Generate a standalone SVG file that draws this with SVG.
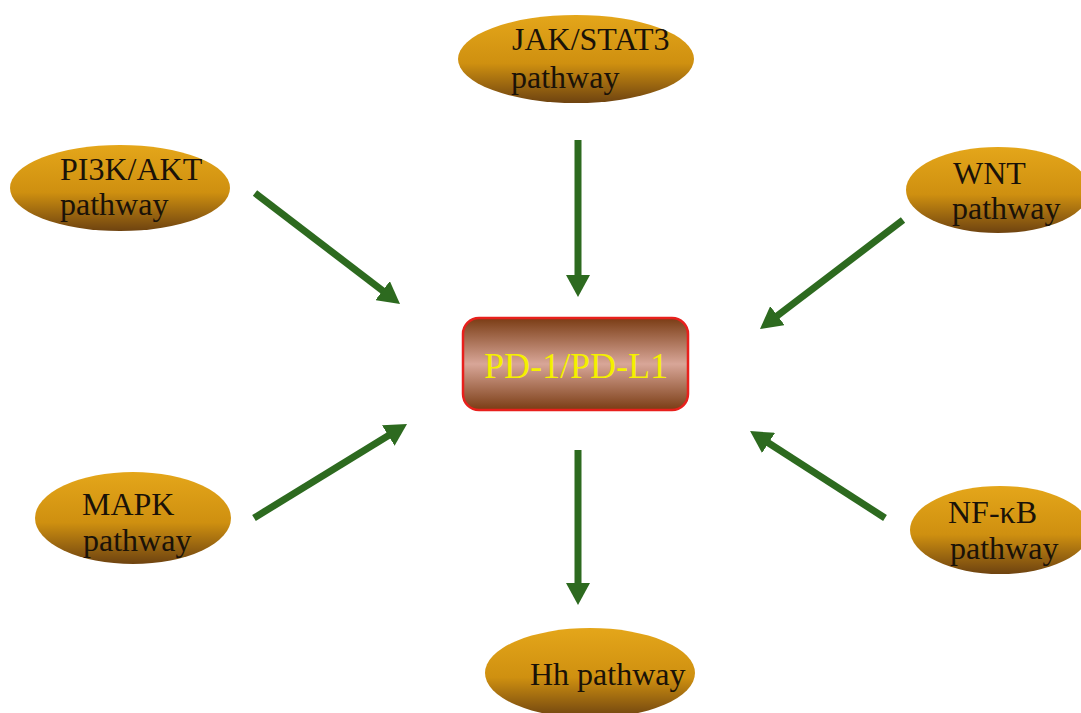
<svg xmlns="http://www.w3.org/2000/svg" width="1081" height="713" viewBox="0 0 1081 713">
<style>
.lbl{font-family:"Liberation Serif","Times New Roman",serif;font-size:32px;fill:#1a1208}
.ell{fill:url(#gold)}
.conn line{stroke:#2d6a1f;stroke-width:7;marker-end:url(#ah)}
</style>
<defs>
<linearGradient id="gold" x1="0" y1="0" x2="0" y2="1">
<stop offset="0" stop-color="#e4a61a"/>
<stop offset="0.55" stop-color="#cf9010"/>
<stop offset="1" stop-color="#6e4310"/>
</linearGradient>
<linearGradient id="box" x1="0" y1="0" x2="0" y2="1">
<stop offset="0" stop-color="#7a3c14"/>
<stop offset="0.5" stop-color="#d8a698"/>
<stop offset="1" stop-color="#7a3c14"/>
</linearGradient>
<marker id="ah" markerUnits="userSpaceOnUse" markerWidth="24" markerHeight="24" refX="6" refY="12" orient="auto">
<path d="M0,0 L22,12 L0,24 z" fill="#2d6a1f"/>
</marker>
</defs>
<rect width="1081" height="713" fill="#ffffff"/>
<g class="conn" id="connectors">
<line x1="578" y1="140" x2="578" y2="281"/>
<line x1="578" y1="450" x2="578" y2="589"/>
<line x1="255" y1="193" x2="387.3" y2="294.3"/>
<line x1="254" y1="518" x2="393.4" y2="432.4"/>
<line x1="903" y1="220" x2="772.7" y2="319.3"/>
<line x1="885" y1="518" x2="763.5" y2="439.7"/>
</g>
<g id="pdl1">
<rect x="463" y="318" width="225" height="92" rx="16" fill="url(#box)" stroke="#e8201c" stroke-width="2.5"/>
<text x="576" y="378" text-anchor="middle" font-family="Liberation Serif,Times New Roman,serif" font-size="36" fill="#f5f000">PD-1/PD-L1</text>
</g>
<g id="jak">
<ellipse class="ell" cx="576" cy="59" rx="118" ry="44"/>
<text class="lbl" x="512" y="50">JAK/STAT3</text>
<text class="lbl" x="511" y="88">pathway</text>
</g>
<g id="pi3k">
<ellipse class="ell" cx="120" cy="188" rx="110" ry="43"/>
<text class="lbl" x="60" y="180">PI3K/AKT</text>
<text class="lbl" x="60" y="215">pathway</text>
</g>
<g id="wnt">
<ellipse class="ell" cx="998" cy="190" rx="92" ry="43"/>
<text class="lbl" x="953" y="184">WNT</text>
<text class="lbl" x="952" y="219">pathway</text>
</g>
<g id="mapk">
<ellipse class="ell" cx="133" cy="518" rx="98" ry="46"/>
<text class="lbl" x="82" y="515">MAPK</text>
<text class="lbl" x="83" y="551">pathway</text>
</g>
<g id="nfkb">
<ellipse class="ell" cx="1000" cy="530" rx="90" ry="44"/>
<text class="lbl" x="948" y="523">NF-κB</text>
<text class="lbl" x="950" y="559">pathway</text>
</g>
<g id="hh">
<ellipse class="ell" cx="590" cy="673" rx="105" ry="45"/>
<text class="lbl" x="530" y="685">Hh pathway</text>
</g>
</svg>
